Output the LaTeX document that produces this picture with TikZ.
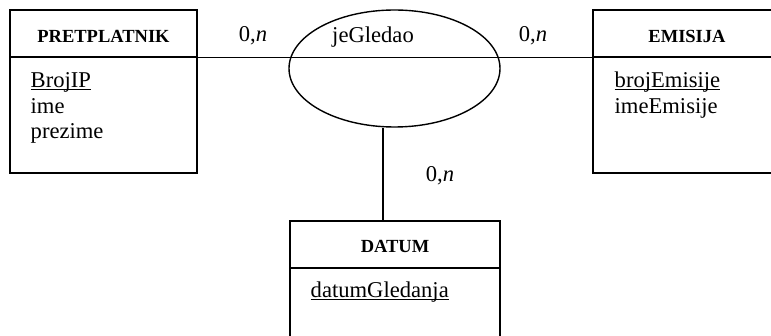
\documentclass[tikz,border=0pt]{standalone}
\usepackage{fontspec}
\setmainfont{Liberation Serif}
\usetikzlibrary{shapes.geometric}
\newcommand{\undl}[1]{\setbox0\hbox{#1}\rlap{\rule[-2pt]{\wd0}{0.9pt}}\box0}
\begin{document}
\begin{tikzpicture}[x=1pt,y=-1pt, line width=1.4pt,
  box/.style={draw, rectangle, inner sep=0pt},
  hdr/.style={font=\fontsize{18.5}{20}\bfseries\selectfont, anchor=base, inner sep=0pt},
  txt/.style={font=\fontsize{22.6}{25}\selectfont, anchor=base west, inner sep=0pt},
  lbl/.style={font=\fontsize{22.6}{25}\selectfont, anchor=base, inner sep=0pt}]
\useasboundingbox (0,0) rectangle (771,336);
% entity PRETPLATNIK
\node[box, minimum width=187pt, minimum height=47pt] (preth) at (103.5,33.5) {};
\node[box, minimum width=187pt, minimum height=116pt] (pretb) at (103.5,115) {};
% entity EMISIJA
\node[box, minimum width=188pt, minimum height=47pt] (emih) at (687,33.5) {};
\node[box, minimum width=188pt, minimum height=116pt] (emib) at (687,115) {};
% entity DATUM
\node[box, minimum width=210pt, minimum height=47pt] (dath) at (395,244.5) {};
\node[box, minimum width=210pt, minimum height=82pt] (datb) at (395,309) {};
% relationship
\node[draw, ellipse, minimum width=211pt, minimum height=117pt, inner sep=0pt] (rel) at (394.5,68.5) {};
% connectors
\draw (preth.south east) -- (emih.south west);
\coordinate (dt) at (383,221);
\draw (dt) -- (dt |- rel.south);
% texts
\node[hdr] (tp) at (103.5,42.5) {PRETPLATNIK};
\node[hdr] (te) at (687,42.5) {EMISIJA};
\node[hdr] (td) at (395,253) {DATUM};
\node[lbl] (c1) at (253,42) {0,\textit{n}};
\node[lbl] (c2) at (533,42) {0,\textit{n}};
\node[lbl] (c3) at (440,182) {0,\textit{n}};
\node[lbl] (rn) at (373,43) {jeGledao};
\node[txt] (a1) at (30,88) {\undl{BrojIP}};
\node[txt] (a2) at (30,113.5) {ime};
\node[txt] (a3) at (30,139) {prezime};
\node[txt] (b1) at (614,88) {\undl{brojEmisije}};
\node[txt] (b2) at (614,113.5) {imeEmisije};
\node[txt] (d1) at (310,298) {\undl{datumGledanja}};
\end{tikzpicture}
\end{document}
